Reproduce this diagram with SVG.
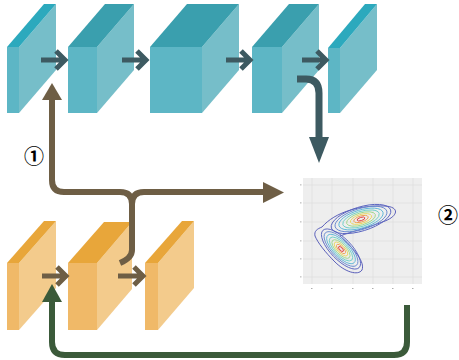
<svg xmlns="http://www.w3.org/2000/svg" width="459" height="360" viewBox="0 0 459 360">
<style>
.tf{fill:#5db6c5}.ts{fill:#76bec9}.tt{fill:#3a9fae}.tt2{fill:#2ca9bd}
.of{fill:#f0b968}.os{fill:#f3cb8c}.ot{fill:#e8a63a}
.chev{fill:none;stroke-width:5;stroke-linejoin:miter;stroke-linecap:butt}
.dk{stroke:#3d5a61}.br{stroke:#6e5e45}
.lab{font-family:"Noto Sans CJK JP","DejaVu Sans",sans-serif;font-size:20px;font-weight:bold;fill:#000}
.grid{stroke:#dadada;stroke-width:0.6}
.c{fill:none;stroke-width:0.9}
</style>
<rect width="459" height="360" fill="#fff"/>
<g id="top-blocks">
<g id="t1"><polygon class="tf" points="7,47 19,47 19,113 7,113"/><polygon class="ts" points="19,47 56,4 56,70 19,113"/><polygon class="tt2" points="7,47 19,47 56,4 44,4"/></g>
<g id="t2"><polygon class="tf" points="68,47 97,47 97,113 68,113"/><polygon class="ts" points="97,47 134,4 134,70 97,113"/><polygon class="tt" points="68,47 97,47 134,4 105,4"/></g>
<g id="t3"><polygon class="tf" points="150,47 202,47 202,113 150,113"/><polygon class="ts" points="202,47 239,4 239,70 202,113"/><polygon class="tt" points="150,47 202,47 239,4 187,4"/></g>
<g id="t4"><polygon class="tf" points="252,47 282,47 282,113 252,113"/><polygon class="ts" points="282,47 319,4 319,70 282,113"/><polygon class="tt" points="252,47 282,47 319,4 289,4"/></g>
<g id="t5"><polygon class="tf" points="328,48 340,48 340,113 328,113"/><polygon class="ts" points="340,48 377,4 377,70 340,113"/><polygon class="tt2" points="328,48 340,48 377,4 365,4"/></g>
</g>
<g id="bottom-blocks">
<g id="o1"><polygon class="of" points="7,263 19,263 19,330 7,330"/><polygon class="os" points="19,263 56,221 56,288 19,330"/><polygon class="ot" points="7,263 19,263 56,221 44,221"/></g>
<g id="o2"><polygon class="of" points="68,263 97,263 97,330 68,330"/><polygon class="os" points="97,263 132,222 132,289 97,330"/><polygon class="ot" points="68,263 97,263 132,222 104,222"/></g>
<g id="o3"><polygon class="of" points="145,263 158,263 158,330 145,330"/><polygon class="os" points="158,263 194,221 194,288 158,330"/><polygon class="ot" points="145,263 158,263 194,221 182,221"/></g>
</g>
<g id="plot">
<rect x="303" y="178" width="119" height="106" fill="#eeeeee"/>
<g class="grid">
<line x1="312" y1="178" x2="312" y2="284"/><line x1="332" y1="178" x2="332" y2="284"/><line x1="353" y1="178" x2="353" y2="284"/><line x1="373" y1="178" x2="373" y2="284"/><line x1="393" y1="178" x2="393" y2="284"/><line x1="413" y1="178" x2="413" y2="284"/>
<line x1="303" y1="185" x2="422" y2="185"/><line x1="303" y1="203" x2="422" y2="203"/><line x1="303" y1="222" x2="422" y2="222"/><line x1="303" y1="241" x2="422" y2="241"/><line x1="303" y1="259" x2="422" y2="259"/><line x1="303" y1="277" x2="422" y2="277"/>
</g>
<g fill="#999">
<rect x="300" y="184.5" width="1.5" height="0.8"/><rect x="300" y="202.5" width="1.5" height="0.8"/><rect x="300" y="221.5" width="1.5" height="0.8"/><rect x="300" y="240.5" width="1.5" height="0.8"/><rect x="300" y="258.5" width="1.5" height="0.8"/><rect x="300" y="276.5" width="1.5" height="0.8"/>
<rect x="311" y="288" width="1.5" height="0.8"/><rect x="331" y="288" width="1.5" height="0.8"/><rect x="352" y="288" width="1.5" height="0.8"/><rect x="372" y="288" width="1.5" height="0.8"/><rect x="392" y="288" width="1.5" height="0.8"/><rect x="412" y="288" width="1.5" height="0.8"/>
</g>
<path class="c" stroke="#4a4fb3" d="M322,227 C335,212 360,205 385,206 C400,207 398,216 385,221 C370,227 350,232 340,236 C355,250 365,262 362,270 C358,276 345,272 335,262 C325,252 318,243 315,236 C314,231 317,229 322,227 Z"/>
<g transform="translate(361,219) rotate(-17)">
<ellipse class="c" stroke="#5a64c0" rx="31" ry="12"/>
<ellipse class="c" stroke="#6a8ad0" rx="27" ry="10.5"/>
<ellipse class="c" stroke="#5fb6d8" rx="23" ry="9"/>
<ellipse class="c" stroke="#6fd0c8" rx="19" ry="7.5"/>
<ellipse class="c" stroke="#9ed88a" rx="15" ry="6"/>
<ellipse class="c" stroke="#e8d860" rx="11" ry="4.5"/>
<ellipse class="c" stroke="#f0a050" rx="7.5" ry="3"/>
<ellipse class="c" stroke="#e04040" rx="4" ry="1.6"/>
</g>
<g transform="translate(341,249) rotate(46)">
<ellipse class="c" stroke="#5a64c0" rx="26" ry="10.5"/>
<ellipse class="c" stroke="#6a8ad0" rx="22.5" ry="9"/>
<ellipse class="c" stroke="#5fb6d8" rx="19" ry="7.7"/>
<ellipse class="c" stroke="#6fd0c8" rx="15.5" ry="6.3"/>
<ellipse class="c" stroke="#9ed88a" rx="12" ry="5"/>
<ellipse class="c" stroke="#e8d860" rx="9" ry="3.7"/>
<ellipse class="c" stroke="#f0a050" rx="6" ry="2.5"/>
<ellipse class="c" stroke="#e04040" rx="3.2" ry="1.4"/>
</g>
</g>
<g id="connectors">
<path class="chev dk" d="M41,60 H64 M56,51 L65,60 L56,69"/>
<path class="chev dk" d="M122,60 H145 M137,51 L146,60 L137,69"/>
<path class="chev dk" d="M226,60 H249 M241,51 L250,60 L241,69"/>
<path class="chev dk" d="M302,60 H325 M317,51 L326,60 L317,69"/>
<path class="chev br" d="M42,276 H65 M57,267 L66,276 L57,285"/>
<path class="chev br" d="M118,276 H142 M134,267 L143,276 L134,285"/>
<path d="M297,79 H306 Q319,79 319,93 V140" fill="none" stroke="#3d5a61" stroke-width="7"/>
<polygon points="309,137 329,137 319,163" fill="#3d5a61"/>
<path d="M52,98 V180 Q52,192 64,192 H120 Q132,192 132,204 V250 Q132,258 120,263 M132,204 Q132,192 144,192 H266" fill="none" stroke="#6e5e45" stroke-width="6"/>
<polygon points="42,100 62,100 52,83" fill="#6e5e45"/>
<polygon points="263,182 263,203 284,192.5" fill="#6e5e45"/>
<path d="M407,305 V342 Q407,355 394,355 H65 Q52,355 52,342 V300" fill="none" stroke="#3b5a3a" stroke-width="6"/>
<polygon points="42,302 62,302 52,284" fill="#3b5a3a"/>
</g>
<g id="labels">
<text class="lab" x="34" y="164" text-anchor="middle">①</text>
<text class="lab" x="448" y="223" text-anchor="middle">②</text>
</g>
</svg>
